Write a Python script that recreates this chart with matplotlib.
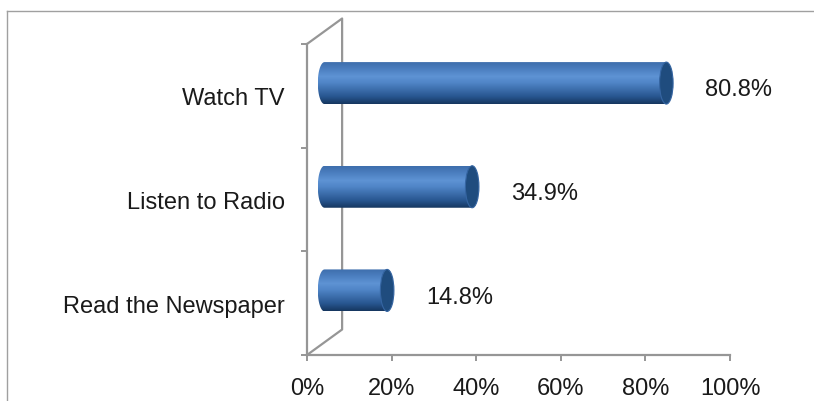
import numpy as np
import matplotlib
matplotlib.use("Agg")
import matplotlib.pyplot as plt
from matplotlib.colors import LinearSegmentedColormap
from matplotlib.patches import PathPatch, Ellipse
from matplotlib.path import Path
from matplotlib.lines import Line2D

# data, bottom to top
categories = ["Read the Newspaper", "Listen to Radio", "Watch TV"]
values = [14.8, 34.9, 80.8]
xticks = [0, 20, 40, 60, 80, 100]
xtick_labels = ["0%", "20%", "40%", "60%", "80%", "100%"]

plt.rcParams["font.family"] = ["Liberation Sans", "DejaVu Sans"]

# 3D look: depth offset of the back wall (data units)
depth_x = 8.3
depth_y = 0.246
bar_h = 0.405       # cylinder diameter in category units
cap_a = 1.6         # half width of the end ellipse, in % units
axis_col = "#969696"
text_col = "#1a1a1a"
fs = 17

cyl_cmap = LinearSegmentedColormap.from_list(
    "cyl",
    [(0.0, "#15365f"), (0.18, "#285690"), (0.5, "#4f84c6"),
     (0.66, "#5e93d4"), (0.85, "#4a7dbe"), (1.0, "#3e6eac")])

fig = plt.figure(figsize=(8.14, 4.02), dpi=100)
ax = fig.add_axes([307 / 814, (402 - 356) / 402, 423 / 814, (356 - 45) / 402])

# outer chart frame (cut off at right and bottom)
fig.add_artist(Line2D([7 / 814, 7 / 814], [0, (402 - 12) / 402],
                      transform=fig.transFigure, color="#a0a0a0", lw=1))
fig.add_artist(Line2D([7 / 814, 1], [(402 - 12) / 402, (402 - 12) / 402],
                      transform=fig.transFigure, color="#a0a0a0", lw=1))

# back wall and floor edges
ax.plot([0, depth_x, depth_x, 0], [3, 3 + depth_y, depth_y, 0],
        color=axis_col, lw=1.6, clip_on=False, zorder=1)

grad = np.linspace(0, 1, 256).reshape(-1, 1)
for i, v in enumerate(values):
    yc = i + 0.5 + depth_y / 2
    x0 = depth_x / 2
    x1 = depth_x / 2 + v
    b = bar_h / 2
    t = np.linspace(np.pi / 2, 3 * np.pi / 2, 60)
    verts = list(zip(x0 + cap_a * np.cos(t), yc + b * np.sin(t)))
    verts += [(x1, yc - b), (x1, yc + b), (x0, yc + b)]
    codes = [Path.MOVETO] + [Path.LINETO] * (len(verts) - 2) + [Path.CLOSEPOLY]
    body = PathPatch(Path(verts, codes), facecolor="none", edgecolor="none")
    ax.add_patch(body)
    im = ax.imshow(grad, cmap=cyl_cmap, origin="lower", aspect="auto",
                   extent=[x0 - cap_a, x1, yc - b, yc + b], zorder=3)
    im.set_clip_path(body)
    ax.add_patch(Ellipse((x1, yc), 2 * cap_a, 2 * b, facecolor="#1f4c7e",
                         edgecolor="#3565a2", lw=0.8, zorder=4))
    ax.text(x1 + cap_a + 7.6, i + 0.5 + depth_y / 4, f"{v}%", fontsize=fs,
            color=text_col, ha="left", va="center")

ax.set_xlim(0, 100)
ax.set_ylim(0, 3)
for s in ["top", "right"]:
    ax.spines[s].set_visible(False)
for s in ["left", "bottom"]:
    ax.spines[s].set_color(axis_col)
    ax.spines[s].set_linewidth(1.6)
    ax.spines[s].set_zorder(2)

ax.set_xticks(xticks)
ax.set_xticklabels(xtick_labels)
ax.set_yticks([0, 1, 2, 3])
ax.set_yticklabels([])
ax.set_yticks([0.5, 1.5, 2.5], minor=True)
ax.set_yticklabels(categories, minor=True)
ax.tick_params(axis="x", length=4.5, width=1.4, color=axis_col, pad=11,
               labelsize=fs, labelcolor=text_col)
ax.tick_params(axis="y", which="major", length=4.5, width=1.4, color=axis_col)
ax.tick_params(axis="y", which="minor", length=0, pad=16,
               labelsize=fs, labelcolor=text_col)

fig.savefig("out.png", dpi=100)
